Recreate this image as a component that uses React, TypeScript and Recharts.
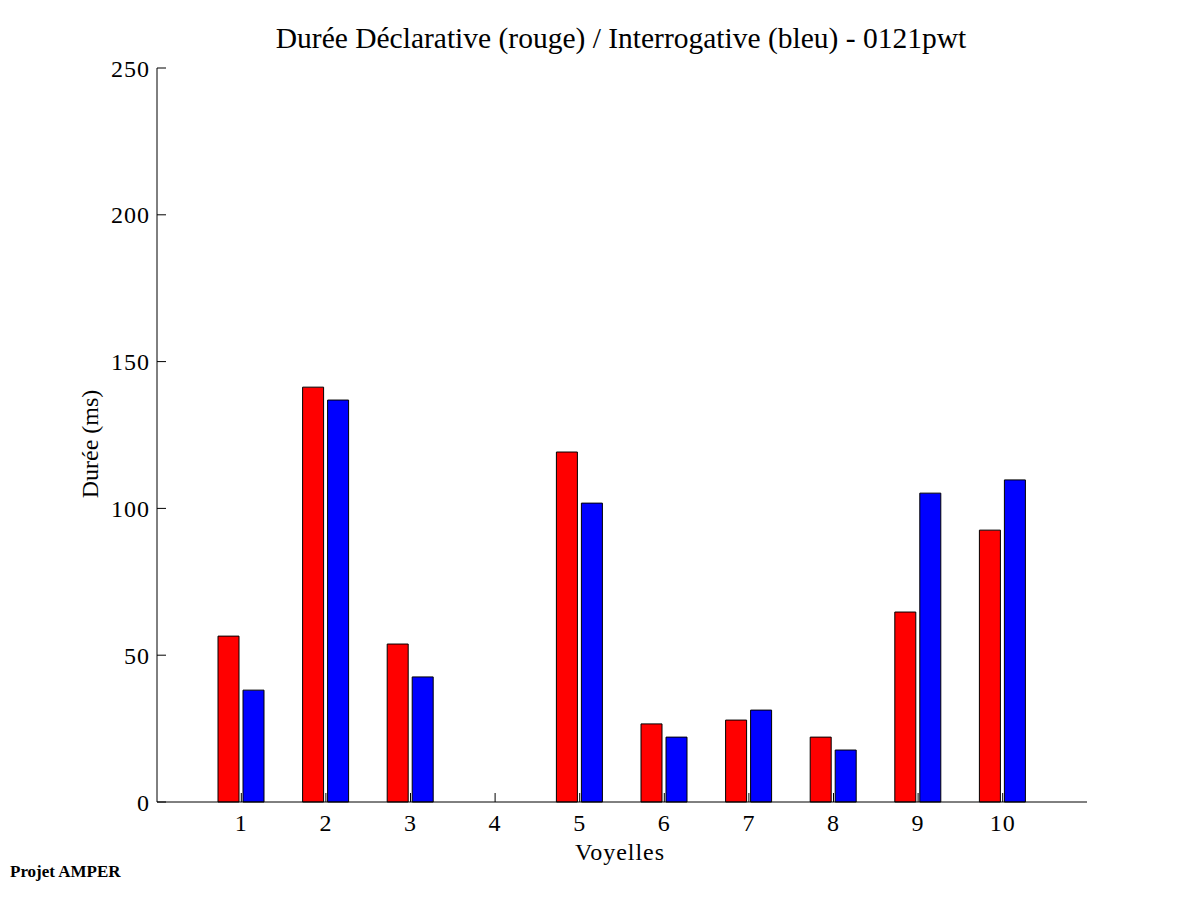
import { BarChart, Bar, XAxis, YAxis } from 'recharts';

// Durée (ms) per vowel
const voyelles = ['1', '2', '3', '4', '5', '6', '7', '8', '9', '10'];
const declarative = [56.5, 141.3, 53.8, 0, 119.2, 26.6, 27.9, 22.1, 64.7, 92.6];
const interrogative = [38.1, 136.9, 42.6, 0, 101.8, 22.1, 31.3, 17.7, 105.2, 109.7];
const yTicks = [0, 50, 100, 150, 200, 250];

const data = voyelles.map((v, i) => ({
    voyelle: v,
    declarative: declarative[i],
    interrogative: interrogative[i],
}));

const FONT = '"Liberation Serif", "Times New Roman", serif';

export default function App() {
    return (
        <div style={{ position: 'absolute', left: 0, top: 0, width: 1201, height: 901, background: '#fff', fontFamily: FONT }}>
            <BarChart
                width={1201}
                height={901}
                data={data}
                margin={{ top: 68, right: 114, bottom: 59, left: 77 }}
                barSize={21}
                barGap={4}
            >
                <XAxis
                    dataKey="voyelle"
                    padding={{ left: 42, right: 42 }}
                    height={40}
                    stroke="#000"
                    tickSize={-9}
                    tickMargin={21}
                    tick={{ fill: '#000', fontSize: 24, fontFamily: FONT, letterSpacing: 1 }}
                    interval={0}
                />
                <YAxis
                    domain={[0, 250]}
                    ticks={yTicks}
                    width={80}
                    stroke="#000"
                    tickSize={-9}
                    tickMargin={16}
                    tick={{ fill: '#000', fontSize: 24, fontFamily: FONT, letterSpacing: 1 }}
                    interval={0}
                />
                <Bar dataKey="declarative" fill="#ff0000" stroke="#000" strokeWidth={1} isAnimationActive={false} />
                <Bar dataKey="interrogative" fill="#0000ff" stroke="#000" strokeWidth={1} isAnimationActive={false} />
            </BarChart>

            {/* Titles and labels */}
            <div style={{ position: 'absolute', left: 0, width: 1242, top: 18, textAlign: 'center', fontSize: 29.5, lineHeight: '40px', whiteSpace: 'nowrap' }}>
                Durée Déclarative (rouge) / Interrogative (bleu) - 0121pwt
            </div>
            <div style={{ position: 'absolute', left: 0, width: 1240, top: 837, textAlign: 'center', fontSize: 24, letterSpacing: 1, lineHeight: '30px' }}>
                Voyelles
            </div>
            <div
                style={{
                    position: 'absolute', left: 90, top: 444, fontSize: 24, lineHeight: '30px', whiteSpace: 'nowrap',
                    transform: 'translate(-50%, -50%) rotate(-90deg)',
                }}
            >
                Durée (ms)
            </div>
            <div style={{ position: 'absolute', left: 10, top: 862, fontSize: 17, fontWeight: 'bold', lineHeight: '20px', whiteSpace: 'nowrap' }}>
                Projet AMPER
            </div>
        </div>
    );
}
